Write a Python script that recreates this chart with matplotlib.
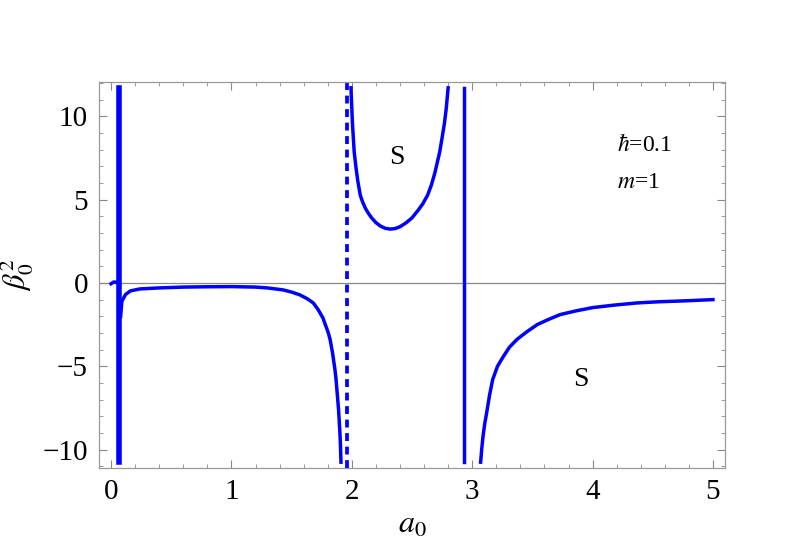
import matplotlib
matplotlib.use("Agg")
import matplotlib.pyplot as plt
from matplotlib.ticker import MultipleLocator

# curve pieces
x_left = [0.0, 0.02, 0.04, 0.055]
y_left = [-0.05, 0.05, 0.05, 0.0]

x_spike = [0.068, 0.068]
y_spike = [-10.75, 11.7]

x_flat = [0.08, 0.09, 0.12, 0.16, 0.24, 0.4, 0.6, 0.8, 1.0, 1.2, 1.3, 1.43, 1.5, 1.57,
          1.63, 1.65, 1.68, 1.70, 1.72, 1.74, 1.76, 1.775, 1.79, 1.805, 1.82, 1.83, 1.84,
          1.85, 1.86, 1.868, 1.875, 1.882, 1.89, 1.895, 1.90, 1.905, 1.91]
y_flat = [-2.0, -1.1, -0.7, -0.48, -0.36, -0.3, -0.25, -0.23, -0.22, -0.25, -0.3, -0.42,
          -0.55, -0.72, -0.95, -1.05, -1.2, -1.4, -1.6, -1.85, -2.1, -2.4, -2.7, -3.0,
          -3.4, -3.8, -4.2, -4.7, -5.2, -5.7, -6.3, -6.9, -7.6, -8.2, -8.8, -9.6, -10.75]

x_dash = [1.96, 1.96]
y_dash = [-11.1, 12.1]

x_well = [1.993, 2.005, 2.02, 2.035, 2.05, 2.07, 2.09, 2.115, 2.14, 2.165, 2.2, 2.24,
          2.28, 2.32, 2.36, 2.40, 2.45, 2.50, 2.55, 2.59, 2.63, 2.66, 2.69, 2.73, 2.75,
          2.77, 2.785, 2.80]
y_well = [11.7, 9.6, 7.85, 6.9, 6.1, 5.27, 4.85, 4.45, 4.15, 3.9, 3.62, 3.4,
          3.27, 3.23, 3.26, 3.37, 3.6, 3.9, 4.35, 4.75, 5.27, 5.85, 6.6, 7.85, 8.7,
          9.6, 10.5, 11.7]

x_wall = [2.93, 2.93]
y_wall = [-10.75, 11.7]

x_tail = [3.07, 3.08, 3.09, 3.105, 3.12, 3.145, 3.17, 3.21, 3.26, 3.31, 3.37, 3.45,
          3.54, 3.63, 3.73, 3.86, 4.0, 4.18, 4.37, 4.55, 4.75, 5.0]
y_tail = [-10.75, -9.9, -9.2, -8.4, -7.8, -6.7, -5.8, -5.0, -4.4, -3.85, -3.4, -2.95,
          -2.5, -2.2, -1.9, -1.68, -1.48, -1.33, -1.2, -1.13, -1.08, -1.0]

x_ticks = [0, 1, 2, 3, 4, 5]
y_ticks = [-10, -5, 0, 5, 10]

plt.rcParams['font.family'] = ['Liberation Serif', 'DejaVu Serif']
plt.rcParams['mathtext.fontset'] = 'stix'

fig = plt.figure(figsize=(8, 5.47), dpi=100)
ax = fig.add_axes([0.12375, 0.1444, 0.7825, 0.7057])

blue = '#0000ff'
lw = 2.5
ax.axhline(0, color='#888888', lw=0.9, zorder=1)
ax.plot(x_left, y_left, color=blue, lw=lw)
ax.plot(x_spike, y_spike, color=blue, lw=4.0)
ax.plot(x_flat, y_flat, color=blue, lw=lw)
ax.plot(x_dash, y_dash, color=blue, lw=2.7, dashes=(2.1, 1.5))
ax.plot(x_well, y_well, color=blue, lw=lw)
ax.plot(x_wall, y_wall, color=blue, lw=lw)
ax.plot(x_tail, y_tail, color=blue, lw=lw)

ax.set_xlim(-0.1, 5.1)
ax.set_ylim(-11.1, 12.05)
ax.set_xticks(x_ticks)
ax.set_yticks(y_ticks)
ax.xaxis.set_minor_locator(MultipleLocator(0.2))
ax.yaxis.set_minor_locator(MultipleLocator(1))
ax.tick_params(which='both', direction='in', top=True, right=True, color='#888888',
               labelsize=21, pad=8)
ax.tick_params(which='major', length=5.5, width=0.8)
ax.tick_params(which='minor', length=3, width=0.6)
for s in ax.spines.values():
    s.set_color('#999999')
    s.set_linewidth(0.9)

ax.set_xlabel(r'$a_0$', fontsize=23, labelpad=4)
ax.set_ylabel(r'$\beta_0^2$', fontsize=22, labelpad=0)
ax.yaxis.set_label_coords(-0.1, 0.5)

ax.text(2.375, 7.5, 'S', fontsize=20, ha='center', va='center')
ax.text(3.9, -5.8, 'S', fontsize=20, ha='center', va='center')
ax.text(4.2, 8.3, r'$\hbar$=0.1', fontsize=17, ha='left', va='center')
ax.text(4.2, 6.0, r'$m$=1', fontsize=17, ha='left', va='center')

fig.savefig('out.png', dpi=100)
